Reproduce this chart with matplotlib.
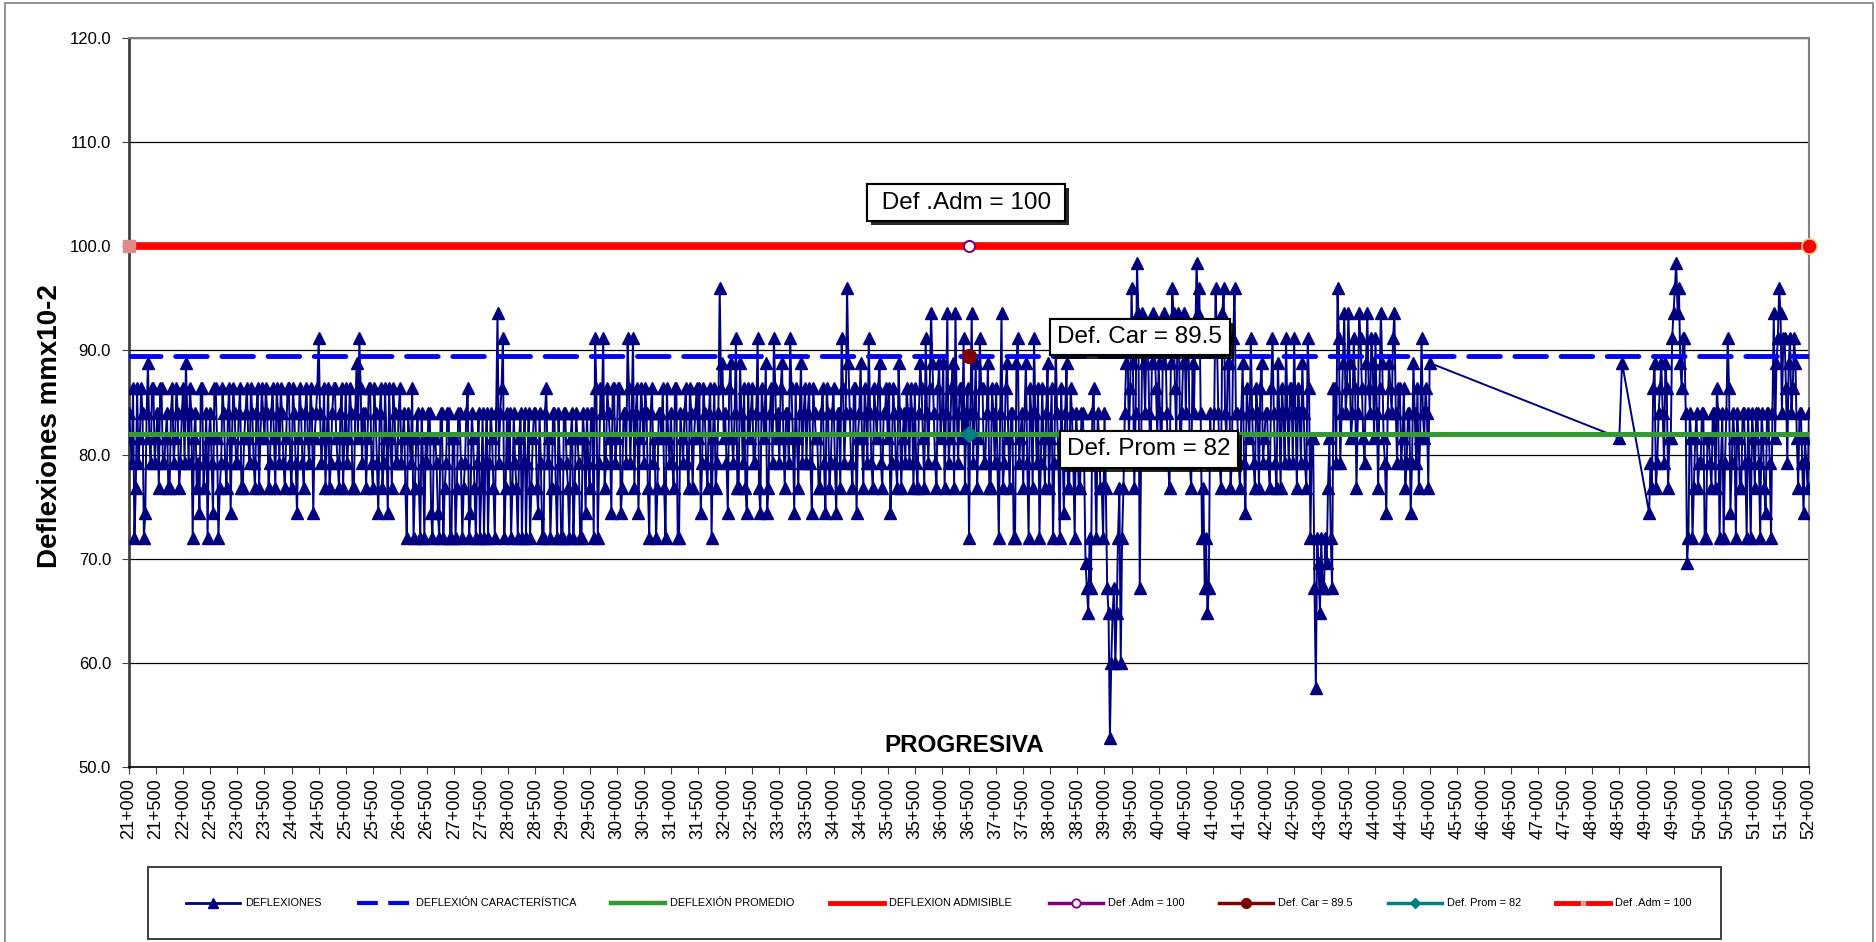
import numpy as np
import matplotlib
matplotlib.use('Agg')
import matplotlib.pyplot as plt
import matplotlib.patheffects as pe
from matplotlib.lines import Line2D
from matplotlib.patches import Rectangle

plt.rcParams['font.family'] = ['Liberation Sans', 'DejaVu Sans']

W, H = 1876, 942

# ---------------- datos ----------------
# progresivas medidas (m): tramo 21+000 - 45+000 y tramo 48+500 - 52+000
# (lecturas cada 50 m, mas las intermedias a +25 m)
prog_tramo1 = np.arange(21000, 45001, 50)
prog_tramo1_b = np.arange(21025, 45000, 50)
prog_tramo2 = np.concatenate([[48500, 48550], np.arange(49050, 52001, 50)])
prog_tramo2_b = np.arange(49075, 52000, 50)

# deflexiones (mm x 10^-2), una fila por cada 500 m
defl_tramo1 = [
    84.0, 79.2, 72.0, 86.4, 81.6, 84.0, 74.4, 88.8, 79.2, 86.4,   # 21+000
    81.6, 76.8, 86.4, 79.2, 84.0, 76.8, 86.4, 81.6, 84.0, 79.2,   # 21+500
    86.4, 88.8, 79.2, 84.0, 81.6, 76.8, 74.4, 86.4, 79.2, 72.0,   # 22+000
    84.0, 74.4, 86.4, 72.0, 79.2, 84.0, 76.8, 86.4, 81.6, 84.0,   # 22+500
    79.2, 86.4, 76.8, 84.0, 81.6, 86.4, 79.2, 84.0, 76.8, 86.4,   # 23+000
    81.6, 84.0, 79.2, 86.4, 76.8, 84.0, 86.4, 79.2, 81.6, 86.4,   # 23+500
    76.8, 84.0, 74.4, 86.4, 79.2, 84.0, 81.6, 86.4, 74.4, 84.0,   # 24+000
    91.2, 79.2, 86.4, 81.6, 76.8, 84.0, 86.4, 79.2, 84.0, 76.8,   # 24+500
    86.4, 81.6, 84.0, 76.8, 88.8, 91.2, 79.2, 84.0, 81.6, 86.4,   # 25+000
    76.8, 84.0, 74.4, 86.4, 79.2, 81.6, 86.4, 76.8, 84.0, 79.2,   # 25+500
    86.4, 81.6, 76.8, 84.0, 79.2, 72.0, 81.6, 76.8, 84.0, 72.0,   # 26+000
    79.2, 84.0, 72.0, 81.6, 74.4, 84.0, 72.0, 79.2, 84.0, 72.0,   # 26+500
    81.6, 76.8, 84.0, 72.0, 79.2, 86.4, 74.4, 81.6, 72.0, 84.0,   # 27+000
    76.8, 72.0, 84.0, 79.2, 81.6, 72.0, 93.6, 84.0, 91.2, 76.8,   # 27+500
    79.2, 72.0, 84.0, 76.8, 81.6, 72.0, 84.0, 79.2, 72.0, 81.6,   # 28+000
    84.0, 74.4, 79.2, 72.0, 86.4, 81.6, 76.8, 84.0, 72.0, 79.2,   # 28+500
    72.0, 84.0, 76.8, 81.6, 72.0, 84.0, 79.2, 72.0, 81.6, 84.0,   # 29+000
    76.8, 84.0, 91.2, 72.0, 86.4, 91.2, 79.2, 84.0, 74.4, 86.4,   # 29+500
    81.6, 86.4, 76.8, 84.0, 91.2, 79.2, 91.2, 84.0, 74.4, 86.4,   # 30+000
    79.2, 84.0, 72.0, 86.4, 81.6, 76.8, 84.0, 86.4, 72.0, 81.6,   # 30+500
    84.0, 76.8, 86.4, 72.0, 81.6, 84.0, 79.2, 86.4, 76.8, 84.0,   # 31+000
    81.6, 74.4, 86.4, 79.2, 84.0, 72.0, 86.4, 79.2, 96.0, 88.8,   # 31+500
    84.0, 74.4, 88.8, 79.2, 91.2, 76.8, 84.0, 86.4, 74.4, 81.6,   # 32+000
    86.4, 79.2, 91.2, 74.4, 84.0, 88.8, 76.8, 86.4, 91.2, 81.6,   # 32+500
    79.2, 88.8, 76.8, 84.0, 91.2, 81.6, 86.4, 76.8, 88.8, 84.0,   # 33+000
    79.2, 86.4, 74.4, 84.0, 81.6, 76.8, 86.4, 74.4, 84.0, 79.2,   # 33+500
    86.4, 74.4, 84.0, 91.2, 79.2, 96.0, 84.0, 76.8, 86.4, 81.6,   # 34+000
    88.8, 76.8, 84.0, 91.2, 79.2, 86.4, 81.6, 88.8, 76.8, 84.0,   # 34+500
    81.6, 74.4, 86.4, 79.2, 88.8, 76.8, 84.0, 86.4, 79.2, 84.0,   # 35+000
    86.4, 76.8, 88.8, 81.6, 91.2, 79.2, 93.6, 84.0, 76.8, 88.8,   # 35+500
    84.0, 76.8, 93.6, 81.6, 88.8, 93.6, 79.2, 86.4, 91.2, 84.0,   # 36+000
    72.0, 93.6, 84.0, 76.8, 91.2, 86.4, 79.2, 88.8, 76.8, 84.0,   # 36+500
    86.4, 72.0, 93.6, 79.2, 88.8, 76.8, 84.0, 72.0, 91.2, 81.6,   # 37+000
    76.8, 88.8, 72.0, 84.0, 91.2, 79.2, 72.0, 86.4, 76.8, 88.8,   # 37+500
    81.6, 72.0, 91.2, 79.2, 86.4, 74.4, 88.8, 76.8, 84.0, 72.0,   # 38+000
    81.6, 76.8, 84.0, 69.6, 64.8, 67.2, 86.4, 72.0, 81.6, 76.8,   # 38+500
    84.0, 67.2, 52.8, 64.8, 60.0, 72.0, 60.0, 76.8, 88.8, 81.6,   # 39+000
    96.0, 76.8, 98.4, 67.2, 93.6, 84.0, 91.2, 79.2, 93.6, 86.4,   # 39+500
    88.8, 79.2, 93.6, 84.0, 76.8, 96.0, 86.4, 93.6, 79.2, 88.8,   # 40+000
    84.0, 91.2, 76.8, 84.0, 98.4, 96.0, 72.0, 67.2, 64.8, 84.0,   # 40+500
    79.2, 96.0, 84.0, 76.8, 96.0, 81.6, 88.8, 79.2, 96.0, 84.0,   # 41+000
    76.8, 88.8, 74.4, 84.0, 91.2, 79.2, 86.4, 76.8, 88.8, 81.6,   # 41+500
    84.0, 76.8, 91.2, 79.2, 88.8, 76.8, 84.0, 91.2, 79.2, 86.4,   # 42+000
    91.2, 76.8, 84.0, 88.8, 79.2, 91.2, 72.0, 81.6, 57.6, 69.6,   # 42+500
    72.0, 67.2, 69.6, 81.6, 67.2, 86.4, 96.0, 79.2, 88.8, 84.0,   # 43+000
    93.6, 81.6, 91.2, 76.8, 93.6, 86.4, 79.2, 93.6, 84.0, 88.8,   # 43+500
    91.2, 76.8, 93.6, 81.6, 74.4, 88.8, 84.0, 93.6, 79.2, 86.4,   # 44+000
    81.6, 76.8, 84.0, 74.4, 88.8, 79.2, 76.8, 91.2, 81.6, 84.0,   # 44+500
    88.8,                                                         # 45+000
]
# lecturas intermedias (+25 m)
defl_tramo1_b = [
    81.6, 86.4, 76.8, 79.2, 86.4, 72.0, 84.0, 81.6, 86.4, 79.2,   # 21+025
    84.0, 86.4, 79.2, 81.6, 76.8, 84.0, 79.2, 86.4, 76.8, 84.0,   # 21+525
    79.2, 84.0, 86.4, 72.0, 84.0, 79.2, 86.4, 76.8, 84.0, 81.6,   # 22+025
    79.2, 86.4, 81.6, 76.8, 86.4, 79.2, 84.0, 74.4, 86.4, 79.2,   # 22+525
    84.0, 76.8, 81.6, 86.4, 79.2, 84.0, 76.8, 86.4, 81.6, 84.0,   # 23+025
    86.4, 76.8, 84.0, 81.6, 86.4, 79.2, 84.0, 76.8, 86.4, 79.2,   # 23+525
    86.4, 79.2, 81.6, 84.0, 76.8, 86.4, 79.2, 84.0, 81.6, 86.4,   # 24+025
    84.0, 81.6, 76.8, 86.4, 79.2, 86.4, 81.6, 76.8, 86.4, 81.6,   # 24+525
    79.2, 86.4, 76.8, 84.0, 81.6, 86.4, 84.0, 76.8, 86.4, 79.2,   # 25+025
    86.4, 79.2, 84.0, 76.8, 86.4, 74.4, 81.6, 86.4, 79.2, 84.0,   # 25+525
    79.2, 84.0, 72.0, 81.6, 86.4, 76.8, 84.0, 72.0, 79.2, 81.6,   # 26+025
    84.0, 74.4, 81.6, 79.2, 72.0, 84.0, 76.8, 84.0, 72.0, 81.6,   # 26+525
    72.0, 84.0, 79.2, 76.8, 84.0, 72.0, 84.0, 76.8, 79.2, 72.0,   # 27+025
    84.0, 79.2, 72.0, 84.0, 76.8, 84.0, 79.2, 86.4, 72.0, 84.0,   # 27+525
    84.0, 76.8, 79.2, 72.0, 84.0, 79.2, 72.0, 84.0, 76.8, 84.0,   # 28+025
    76.8, 84.0, 72.0, 84.0, 79.2, 72.0, 84.0, 76.8, 84.0, 72.0,   # 28+525
    84.0, 79.2, 72.0, 84.0, 76.8, 81.6, 72.0, 84.0, 74.4, 79.2,   # 29+025
    84.0, 72.0, 86.4, 79.2, 84.0, 76.8, 86.4, 81.6, 86.4, 79.2,   # 29+525
    86.4, 74.4, 84.0, 79.2, 86.4, 84.0, 76.8, 86.4, 81.6, 84.0,   # 30+025
    86.4, 76.8, 84.0, 79.2, 72.0, 84.0, 81.6, 76.8, 86.4, 79.2,   # 30+525
    79.2, 86.4, 72.0, 84.0, 79.2, 86.4, 76.8, 84.0, 81.6, 86.4,   # 31+025
    86.4, 79.2, 84.0, 76.8, 86.4, 81.6, 76.8, 84.0, 86.4, 81.6,   # 31+525
    79.2, 86.4, 81.6, 84.0, 76.8, 88.8, 79.2, 76.8, 86.4, 84.0,   # 32+025
    79.2, 84.0, 76.8, 86.4, 81.6, 74.4, 84.0, 79.2, 86.4, 84.0,   # 32+525
    86.4, 81.6, 84.0, 79.2, 86.4, 74.4, 81.6, 84.0, 79.2, 86.4,   # 33+025
    84.0, 79.2, 86.4, 81.6, 76.8, 84.0, 79.2, 86.4, 76.8, 84.0,   # 33+525
    79.2, 84.0, 76.8, 86.4, 84.0, 88.8, 79.2, 86.4, 74.4, 84.0,   # 34+025
    81.6, 86.4, 79.2, 84.0, 76.8, 84.0, 86.4, 79.2, 84.0, 86.4,   # 34+525
    86.4, 79.2, 84.0, 76.8, 84.0, 81.6, 79.2, 84.0, 86.4, 76.8,   # 35+025
    79.2, 84.0, 86.4, 76.8, 84.0, 86.4, 88.8, 79.2, 86.4, 81.6,   # 35+525
    88.8, 84.0, 79.2, 86.4, 76.8, 84.0, 86.4, 81.6, 76.8, 86.4,   # 36+025
    84.0, 79.2, 88.8, 81.6, 86.4, 79.2, 84.0, 76.8, 86.4, 79.2,   # 36+525
    79.2, 84.0, 76.8, 86.4, 81.6, 84.0, 72.0, 88.8, 79.2, 84.0,   # 37+025
    84.0, 79.2, 86.4, 76.8, 84.0, 86.4, 79.2, 81.6, 84.0, 76.8,   # 37+525
    86.4, 79.2, 84.0, 72.0, 81.6, 84.0, 76.8, 86.4, 79.2, 84.0,   # 38+025
    76.8, 84.0, 79.2, 67.2, 72.0, 84.0, 79.2, 84.0, 76.8, 72.0,   # 38+525
    76.8, 64.8, 60.0, 67.2, 64.8, 76.8, 72.0, 84.0, 91.2, 86.4,   # 39+025
    88.8, 84.0, 93.6, 79.2, 88.8, 91.2, 84.0, 88.8, 91.2, 81.6,   # 39+525
    84.0, 88.8, 91.2, 79.2, 88.8, 93.6, 81.6, 91.2, 84.0, 93.6,   # 40+025
    91.2, 79.2, 88.8, 91.2, 93.6, 84.0, 76.8, 72.0, 67.2, 79.2,   # 40+525
    84.0, 91.2, 79.2, 93.6, 84.0, 88.8, 76.8, 91.2, 84.0, 79.2,   # 41+025
    84.0, 79.2, 86.4, 81.6, 84.0, 76.8, 84.0, 86.4, 79.2, 84.0,   # 41+525
    79.2, 86.4, 84.0, 76.8, 84.0, 86.4, 79.2, 84.0, 86.4, 79.2,   # 42+025
    84.0, 86.4, 79.2, 84.0, 76.8, 86.4, 81.6, 67.2, 72.0, 64.8,   # 42+525
    67.2, 72.0, 76.8, 72.0, 86.4, 79.2, 91.2, 84.0, 93.6, 86.4,   # 43+025
    88.8, 84.0, 86.4, 84.0, 91.2, 81.6, 88.8, 86.4, 91.2, 81.6,   # 43+525
    84.0, 86.4, 88.8, 79.2, 84.0, 86.4, 91.2, 84.0, 86.4, 79.2,   # 44+025
    86.4, 79.2, 84.0, 79.2, 84.0, 86.4, 81.6, 84.0, 86.4, 76.8,   # 44+525
]
defl_tramo2 = [
    81.6, 88.8,                                                   # 48+500
    74.4, 76.8, 88.8, 79.2, 86.4, 84.0, 88.8, 76.8, 81.6,         # 49+050
    93.6, 98.4, 96.0, 86.4, 91.2, 69.6, 84.0, 72.0, 81.6, 76.8,   # 49+500
    79.2, 84.0, 72.0, 81.6, 76.8, 84.0, 86.4, 72.0, 84.0, 79.2,   # 50+000
    91.2, 74.4, 84.0, 72.0, 81.6, 76.8, 84.0, 72.0, 79.2, 84.0,   # 50+500
    76.8, 84.0, 72.0, 81.6, 74.4, 84.0, 72.0, 93.6, 88.8, 96.0,   # 51+000
    84.0, 91.2, 79.2, 91.2, 86.4, 88.8, 76.8, 84.0, 74.4, 79.2,   # 51+500
    84.0,                                                         # 52+000
]
defl_tramo2_b = [
    79.2, 86.4, 76.8, 84.0, 88.8, 79.2, 86.4, 81.6, 91.2,         # 49+075
    96.0, 93.6, 88.8, 91.2, 84.0, 72.0, 81.6, 76.8, 84.0, 79.2,   # 49+525
    84.0, 72.0, 81.6, 79.2, 84.0, 76.8, 84.0, 79.2, 72.0, 84.0,   # 50+025
    86.4, 79.2, 81.6, 84.0, 76.8, 84.0, 79.2, 84.0, 72.0, 81.6,   # 50+525
    84.0, 79.2, 84.0, 76.8, 84.0, 79.2, 84.0, 81.6, 91.2, 93.6,   # 51+025
    91.2, 86.4, 88.8, 84.0, 91.2, 81.6, 84.0, 79.2, 81.6, 76.8,   # 51+525
]

DEF_ADM = 100.0
DEF_CAR = 89.5
DEF_PROM = 82.0
PROG_INI, PROG_FIN = 21000, 52000
PROG_ETIQUETA = 36500

progresiva = np.concatenate([prog_tramo1, prog_tramo1_b, prog_tramo2, prog_tramo2_b])
deflexion = np.array(defl_tramo1 + defl_tramo1_b + defl_tramo2 + defl_tramo2_b)
orden = np.argsort(progresiva, kind='stable')
progresiva = progresiva[orden]
deflexion = deflexion[orden]

C_DEFL = '#000080'
C_CAR = '#0000FF'
C_PROM = '#339933'
C_ADM = '#FF0000'


def fmt_prog(p):
    return f'{p // 1000}+{p % 1000:03d}'


fig = plt.figure(figsize=(W / 100, H / 100), dpi=100)
fig.patch.set_facecolor('white')
ax = fig.add_axes([129 / W, 1 - 767 / H, 1680 / W, 729 / H])

# serie de deflexiones
ax.plot(progresiva, deflexion, color=C_DEFL, lw=1.4, marker='^', ms=9,
        mfc=C_DEFL, mec=C_DEFL, zorder=3)

# lineas de referencia
ax.plot([PROG_INI, PROG_FIN], [DEF_CAR, DEF_CAR], color=C_CAR, lw=3.5,
        dashes=(6.5, 3), dash_capstyle='round', zorder=4)
ax.plot([PROG_INI, PROG_FIN], [DEF_PROM, DEF_PROM], color=C_PROM, lw=3.6, zorder=4)
ax.plot([PROG_INI, PROG_FIN], [DEF_ADM, DEF_ADM], color=C_ADM, lw=5.5, zorder=4)
ax.plot([PROG_INI], [DEF_ADM], ls='none', marker='s', ms=8, mfc='#e08a8a',
        mec='#e08a8a', zorder=5, clip_on=False)
ax.plot([PROG_FIN], [DEF_ADM], ls='none', marker='o', ms=11, mfc=C_ADM,
        mec='#c8dca0', mew=1.2, zorder=5, clip_on=False)

# puntos de etiqueta
ax.plot([PROG_ETIQUETA], [DEF_ADM], ls='none', marker='o', ms=8, mfc='white',
        mec='#800080', mew=1.5, zorder=6)
ax.plot([PROG_ETIQUETA], [DEF_CAR], ls='none', marker='o', ms=10, mfc='#800000',
        mec='#800000', zorder=6)
ax.plot([PROG_ETIQUETA], [DEF_PROM], ls='none', marker='D', ms=8, mfc='#008080',
        mec='#008080', zorder=6)

# cajas de texto
for txt, x, y in [(' Def .Adm = 100 ', 36445, 104.2),
                  ('Def. Car = 89.5', 39654, 91.3),
                  ('Def. Prom = 82', 39820, 80.5)]:
    t = ax.text(x, y, txt, ha='center', va='center', fontsize=17.5,
                color='black', zorder=10,
                bbox=dict(boxstyle='square,pad=0.3', fc='white', ec='black', lw=1.5))
    t.get_bbox_patch().set_path_effects([
        pe.withSimplePatchShadow(offset=(3, -3), shadow_rgbFace='black', alpha=0.85),
        pe.Normal()])

ax.text(0.497, 0.029, 'PROGRESIVA', transform=ax.transAxes, ha='center',
        va='center', fontsize=17.5, fontweight='bold', zorder=10)

# ejes
ax.set_xlim(PROG_INI, PROG_FIN)
ax.set_ylim(50, 120)
ticks = np.arange(PROG_INI, PROG_FIN + 1, 500)
ax.set_xticks(ticks)
ax.set_xticklabels([fmt_prog(t) for t in ticks], rotation=90, fontsize=13)
ax.set_yticks(np.arange(50, 121, 10))
ax.set_yticklabels([f'{v:.1f}' for v in np.arange(50, 121, 10)], fontsize=12)
ax.tick_params(axis='x', length=5, pad=3, color='#404040')
ax.tick_params(axis='y', length=5, pad=8, color='#404040')
ax.yaxis.grid(True, color='black', lw=0.9)
ax.set_axisbelow(True)
ax.spines['left'].set_color('#404040')
ax.spines['left'].set_linewidth(2)
ax.spines['bottom'].set_color('black')
ax.spines['bottom'].set_linewidth(1.2)
ax.spines['top'].set_color('#808080')
ax.spines['top'].set_linewidth(1.5)
ax.spines['right'].set_color('#808080')
ax.spines['right'].set_linewidth(1.5)

fig.text(50 / W, 1 - 426 / H, 'Deflexiones mmx10-2', rotation=90, ha='center',
         va='center', fontsize=20, fontweight='bold')

# marco exterior
fig.add_artist(Rectangle((5 / W, -0.02), 1868 / W, 1.0168, transform=fig.transFigure,
                         fc='none', ec='#808080', lw=1.2))

# leyenda
fig.add_artist(Rectangle((148 / W, 3 / H), (1721 - 148) / W, (939 - 867) / H,
                         transform=fig.transFigure, fc='white', ec='#303030', lw=1.3))
yl = 1 - 903 / H
entradas = [
    (186, 'DEFLEXIONES', dict(color=C_DEFL, lw=2), dict(marker='^', ms=7, color=C_DEFL)),
    (357, 'DEFLEXIÓN CARACTERÍSTICA', dict(color=C_CAR, lw=3, dashes=(5, 2.5)), None),
    (611, 'DEFLEXIÓN PROMEDIO', dict(color=C_PROM, lw=3.2), None),
    (830, 'DEFLEXION ADMISIBLE', dict(color=C_ADM, lw=3.5), None),
    (1049, 'Def .Adm = 100', dict(color='#800080', lw=2.5),
     dict(marker='o', ms=6, mfc='white', mec='#800080', mew=1.3)),
    (1219, 'Def. Car = 89.5', dict(color='#800000', lw=2.5),
     dict(marker='o', ms=7, color='#800000')),
    (1388, 'Def. Prom = 82', dict(color='#008080', lw=2.5),
     dict(marker='D', ms=5, color='#008080')),
    (1556, 'Def .Adm = 100', dict(color=C_ADM, lw=3.5),
     dict(marker='s', ms=3, color='#d0a0a0')),
]
for x0, lab, lsty, msty in entradas:
    fig.add_artist(Line2D([x0 / W, (x0 + 54) / W], [yl, yl], transform=fig.transFigure,
                          **lsty))
    if msty:
        fig.add_artist(Line2D([(x0 + 27) / W], [yl], transform=fig.transFigure,
                              ls='none', **msty))
    fig.text((x0 + 59) / W, yl, lab, ha='left', va='center', fontsize=7.9)

fig.savefig('out.png', dpi=100, facecolor='white')
